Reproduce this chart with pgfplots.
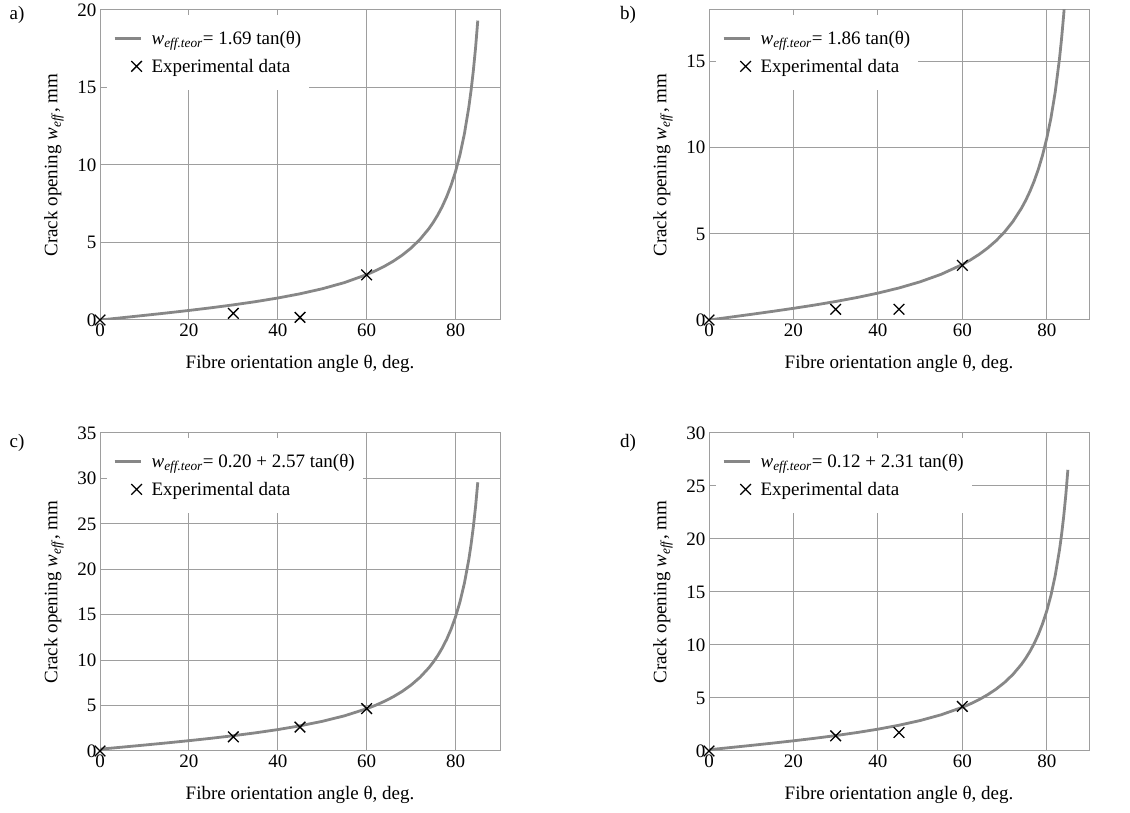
\documentclass[border=0pt]{standalone}
\usepackage{pgfplots}
\pgfplotsset{compat=1.18}
\usepackage{fontspec}
\setmainfont{Liberation Serif}
\definecolor{curvegray}{RGB}{135,135,135}
\definecolor{gridgray}{RGB}{158,158,158}
\newcommand{\fs}{\fontsize{19}{22}\selectfont}
\pgfplotsset{
  panel/.style={
    scale only axis,
    xmin=0, xmax=90, ymin=0,
    xtick={0,20,40,60,80},
    grid=major,
    grid style={gridgray, line width=1pt},
    axis line style={gridgray, line width=1pt},
    tick style={gridgray, line width=1pt},
    major tick length=4pt,
    tick label style={font=\fs},
    /pgf/number format/assume math mode=true,
    xlabel={Fibre orientation angle θ, deg.},
    ylabel={Crack opening \textit{w}\textsubscript{\textit{eff}}, mm},
    every axis x label/.style={at={(rel axis cs:0.5,0)}, anchor=center, yshift=-44pt, font=\fs},
    every axis y label/.style={at={(rel axis cs:0,0.5)}, anchor=center, xshift=-46pt, rotate=90, font=\fs},
    legend style={font=\fs, at={(rel axis cs:0,1)}, anchor=north west, xshift=7pt, yshift=-5pt,
      draw=none, fill=white, inner ysep=14pt, inner xsep=6pt, row sep=9pt, column sep=7pt},
    legend cell align=left,
  },
  curve/.style={curvegray, line width=2.8pt, no marks,
    legend image code/.code={\path[draw=none,fill=none] (0pt,0pt) -- (28pt,0pt); \draw[##1] (0pt,0pt) -- (26pt,0pt);}},
  expdata/.style={only marks, mark=x, mark size=7.5pt, mark options={black, line width=1.3pt},
    legend image code/.code={\path[draw=none,fill=none] (0pt,0pt) -- (28pt,0pt); \draw[##1] plot coordinates {(22pt,0pt)};}},
}
\begin{document}
\begin{tikzpicture}
\path[use as bounding box] (0pt,0pt) rectangle (1130pt,813pt);
% ---------------- a)
\begin{axis}[panel, at={(100pt,493pt)}, anchor=south west, width=400pt, height=310pt,
  ymax=20, ytick={0,5,10,15,20}]
\addplot[curve] coordinates {
(0,0) (5,0.1479) (10,0.2980) (15,0.4528) (20,0.6151) (25,0.7881) (30,0.9757)
(35,1.1834) (40,1.4181) (45,1.69) (50,2.0141) (55,2.4136) (60,2.9272)
(62,3.1784) (64,3.4650) (66,3.7958) (68,4.1829) (70,4.6432) (72,5.2013)
(74,5.8937) (75,6.3072) (76,6.7782) (77,7.3202) (78,7.9508) (79,8.6943)
(80,9.5845) (81,10.6702) (82,12.0250) (83,13.7640) (83.5,14.8329)
(84,16.0793) (84.5,17.5513) (85,19.3168)};
\addlegendentry{\textit{w}\textsubscript{\textit{eff.teor}}= 1.69 tan(θ)}
\addplot[expdata] coordinates {(0,0) (30,0.43) (45,0.17) (60,2.91)};
\addlegendentry{Experimental data}
\end{axis}
% ---------------- b)
\begin{axis}[panel, at={(709pt,493pt)}, anchor=south west, width=380pt, height=310pt,
  ymax=18, ytick={0,5,10,15}]
\addplot[curve] coordinates {
(0,0) (5,0.1627) (10,0.3280) (15,0.4984) (20,0.6770) (25,0.8673) (30,1.0739)
(35,1.3024) (40,1.5607) (45,1.86) (50,2.2167) (55,2.6564) (60,3.2216)
(62,3.4982) (64,3.8136) (66,4.1776) (68,4.6037) (70,5.1103) (72,5.7245)
(74,6.4866) (75,6.9416) (76,7.4601) (77,8.0566) (78,8.7506) (79,9.5689)
(80,10.5486) (81,11.7436) (82,13.2346) (83,15.1485) (83.5,16.3250)
(84,17.6967) (84.5,19.3168) (85,21.2599)};
\addlegendentry{\textit{w}\textsubscript{\textit{eff.teor}}= 1.86 tan(θ)}
\addplot[expdata] coordinates {(0,0) (30,0.62) (45,0.62) (60,3.17)};
\addlegendentry{Experimental data}
\end{axis}
% ---------------- c)
\begin{axis}[panel, at={(100pt,62pt)}, anchor=south west, width=400pt, height=318pt,
  ymax=35, ytick={0,5,10,15,20,25,30,35}]
\addplot[curve] coordinates {
(0,0.20) (5,0.4248) (10,0.6532) (15,0.8886) (20,1.1354) (25,1.3984) (30,1.6838)
(35,1.9995) (40,2.3565) (45,2.77) (50,3.2628) (55,3.8703) (60,4.6514)
(62,5.0335) (64,5.4693) (66,5.9723) (68,6.5610) (70,7.2610) (72,8.1096)
(74,9.1626) (75,9.7914) (76,10.5077) (77,11.3319) (78,12.2909) (79,13.4215)
(80,14.7752) (81,16.4263) (82,18.4865) (83,21.1310) (83.5,22.7566)
(84,24.6519) (84.5,26.8905) (85,29.5752)};
\addlegendentry{\textit{w}\textsubscript{\textit{eff.teor}}= 0.20 + 2.57 tan(θ)}
\addplot[expdata] coordinates {(0,0) (30,1.56) (45,2.63) (60,4.67)};
\addlegendentry{Experimental data}
\end{axis}
% ---------------- d)
\begin{axis}[panel, at={(709pt,62pt)}, anchor=south west, width=380pt, height=318pt,
  ymax=30, ytick={0,5,10,15,20,25,30}]
\addplot[curve] coordinates {
(0,0.12) (5,0.3221) (10,0.5273) (15,0.7390) (20,0.9608) (25,1.1972) (30,1.4537)
(35,1.7375) (40,2.0583) (45,2.43) (50,2.8729) (55,3.4190) (60,4.1210)
(62,4.4645) (64,4.8562) (66,5.3084) (68,5.8375) (70,6.4667) (72,7.2294)
(74,8.1759) (75,8.7410) (76,9.3849) (77,10.1257) (78,10.9877) (79,12.0039)
(80,13.2207) (81,14.7048) (82,16.5565) (83,18.9334) (83.5,20.3946)
(84,22.0982) (84.5,24.1103) (85,26.5234)};
\addlegendentry{\textit{w}\textsubscript{\textit{eff.teor}}= 0.12 + 2.31 tan(θ)}
\addplot[expdata] coordinates {(0,0) (30,1.43) (45,1.75) (60,4.20)};
\addlegendentry{Experimental data}
\end{axis}
\node[font=\fs] at (17pt,798pt) {a)};
\node[font=\fs] at (628pt,798pt) {b)};
\node[font=\fs] at (17pt,370pt) {c)};
\node[font=\fs] at (628pt,370pt) {d)};
\end{tikzpicture}
\end{document}
